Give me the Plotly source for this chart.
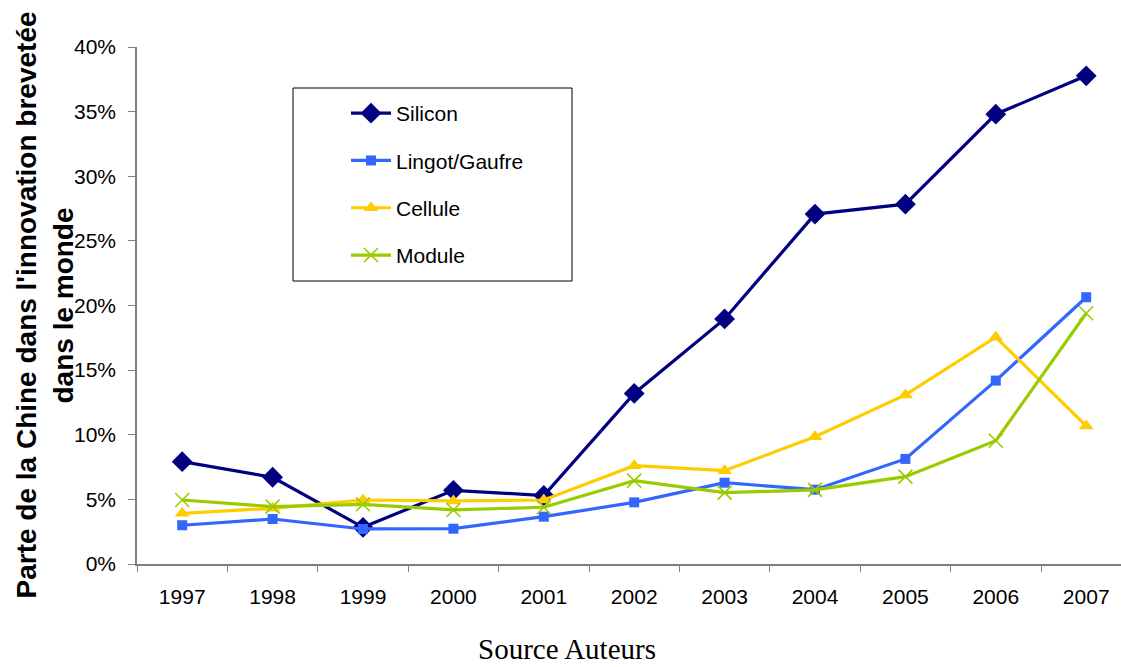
import plotly.graph_objects as go

# Share of China in patented innovation worldwide, by segment
years = ["1997", "1998", "1999", "2000", "2001", "2002", "2003", "2004", "2005", "2006", "2007"]
silicon = [0.0792, 0.0671, 0.0284, 0.0570, 0.0530, 0.1320, 0.1896, 0.2707, 0.2784, 0.3480, 0.3777]
lingot_gaufre = [0.0300, 0.0348, 0.0271, 0.0273, 0.0366, 0.0477, 0.0629, 0.0575, 0.0813, 0.1419, 0.2064]
cellule = [0.0392, 0.0431, 0.0495, 0.0488, 0.0495, 0.0761, 0.0722, 0.0985, 0.1308, 0.1755, 0.1068]
module = [0.0495, 0.0444, 0.0462, 0.0418, 0.0439, 0.0645, 0.0552, 0.0573, 0.0676, 0.0954, 0.1940]
y_ticks = [0.0, 0.05, 0.10, 0.15, 0.20, 0.25, 0.30, 0.35, 0.40]

FONT = "Arial, Liberation Sans, sans-serif"

series = [
    ("Silicon", silicon, "#000080", dict(symbol="diamond", size=16)),
    ("Lingot/Gaufre", lingot_gaufre, "#3366FF", dict(symbol="square", size=10)),
    ("Cellule", cellule, "#FFCC00", dict(symbol="triangle-up", size=13)),
    ("Module", module, "#99CC00", dict(symbol="x-thin", size=14,
                                       line=dict(width=1.6, color="#99CC00"))),
]

fig = go.Figure()
for name, vals, color, mk in series:
    fig.add_trace(go.Scatter(
        x=years, y=vals, name=name, mode="lines+markers",
        line=dict(color=color, width=3.2),
        marker=dict(color=color, **mk),
        legendgroup=name,
    ))

W, H = 1121, 667
L, R, T, B = 137, 0, 47, 103
pw, ph = W - L - R, H - T - B


def px(x):
    return (x - L) / pw


def py(y):
    return (H - B - y) / ph


fig.update_layout(
    width=W, height=H,
    margin=dict(l=L, r=R, t=T, b=B),
    paper_bgcolor="white", plot_bgcolor="white",
    font=dict(family=FONT, size=21, color="black"),
    showlegend=True,
    legend=dict(
        x=px(346), y=py(93), xanchor="left", yanchor="top",
        font=dict(family=FONT, size=21, color="black"),
        tracegroupgap=17, bgcolor="rgba(0,0,0,0)", borderwidth=0,
        itemwidth=40,
    ),
    xaxis=dict(
        type="category", range=[-0.5, 10.385],
        showline=True, linecolor="#7f7f7f", linewidth=1.5,
        ticks="outside", tickson="boundaries", ticklen=6, tickcolor="#7f7f7f",
        showgrid=False, zeroline=False,
        ticklabelstandoff=13,
        tickfont=dict(family=FONT, size=21, color="black"),
    ),
    yaxis=dict(
        range=[0, 0.4], tickvals=y_ticks, tickformat=".0%",
        showline=True, linecolor="#7f7f7f", linewidth=1.5,
        ticks="outside", ticklen=7, tickcolor="#7f7f7f",
        showgrid=False, zeroline=False,
        ticklabelstandoff=8,
        tickfont=dict(family=FONT, size=21, color="black"),
    ),
    shapes=[dict(
        type="rect", xref="paper", yref="paper",
        x0=px(293), x1=px(572), y0=py(281), y1=py(88),
        line=dict(color="black", width=1), fillcolor="rgba(0,0,0,0)",
    )],
    annotations=[
        dict(text="<b>Parte de la Chine dans l'innovation brevetée</b>",
             xref="paper", yref="paper", x=px(26), y=0.5,
             xanchor="center", yanchor="middle", textangle=-90, showarrow=False,
             font=dict(family=FONT, size=28, color="black")),
        dict(text="<b>dans le monde</b>",
             xref="paper", yref="paper", x=px(63), y=0.5,
             xanchor="center", yanchor="middle", textangle=-90, showarrow=False,
             font=dict(family=FONT, size=28, color="black")),
        dict(text="Source Auteurs",
             xref="paper", yref="paper", x=px(567), y=py(667),
             xanchor="center", yanchor="bottom", showarrow=False,
             font=dict(family="Times New Roman, Liberation Serif, serif", size=29,
                       color="black")),
    ],
)

fig.write_html("out.html")
